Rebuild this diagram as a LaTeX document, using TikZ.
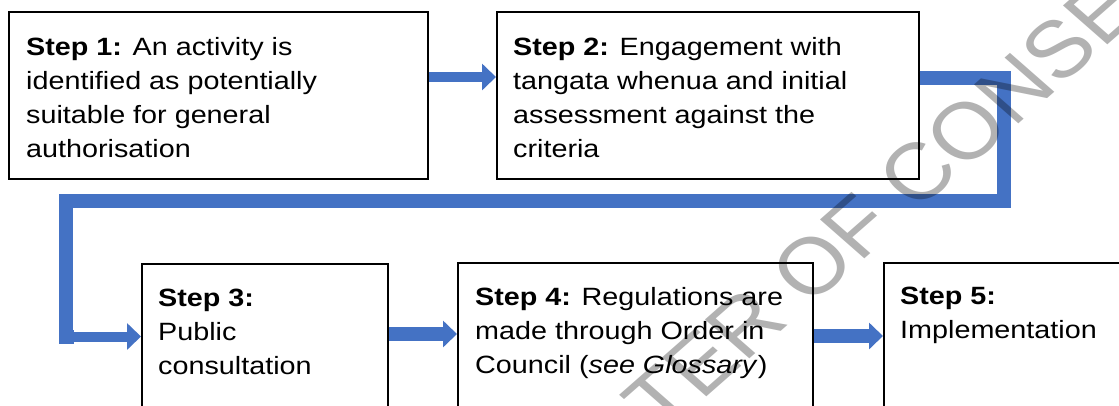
\documentclass[tikz,border=0pt]{standalone}
\usepackage{fontspec}
\setmainfont{Liberation Sans}[FakeStretch=1.15]
\newfontfamily\wmfont{Liberation Sans}
\usetikzlibrary{arrows.meta}
\definecolor{ablue}{HTML}{4472C4}
\begin{document}
\begin{tikzpicture}[x=1pt,y=-1pt,
  stepbox/.style={draw=black, line width=1.5pt, inner sep=0pt, anchor=north west, minimum height=#1},
  steptext/.style={inner sep=0pt, anchor=base west},
  blockarrow/.style={draw=ablue, line width=#1, -{Triangle[length=14pt,width=26pt]}},
  elbow/.style={draw=ablue, line width=14pt, line join=miter},
  wmark/.style={inner sep=0pt, anchor=base west, rotate=45, transform shape, text=black, text opacity=0.3, font=\wmfont\fontsize{80}{80}\selectfont}
]
\newcommand{\steptxt}[1]{\parbox[t]{420pt}{\fontsize{25}{34.3}\selectfont\raggedright #1}}
\clip (0,0) rectangle (1119,405);
\useasboundingbox (0,0) rectangle (1119,405);

% boxes
\node[stepbox=167pt, minimum width=419pt] (b1) at (8,11) {};
\node[stepbox=167pt, minimum width=422pt] (b2) at (496,11) {};
\node[stepbox=200pt, minimum width=246pt] (b3) at (141,263) {};
\node[stepbox=200pt, minimum width=355pt] (b4) at (457,262) {};
\node[stepbox=200pt, minimum width=260pt] (b5) at (883,262) {};

% texts
\node[steptext] (t1) at (26,55) {\steptxt{\textbf{Step 1:} An activity is\\identified as potentially\\suitable for general\\authorisation}};
\node[steptext] (t2) at (513,55) {\steptxt{\textbf{Step 2:} Engagement with\\tangata whenua and initial\\assessment against the\\criteria}};
\node[steptext] (t3) at (158,306) {\steptxt{\textbf{Step 3:}\\Public\\consultation}};
\node[steptext] (t4) at (475,305) {\steptxt{\textbf{Step 4:} Regulations are\\made through Order in\\Council (\textit{see Glossary})}};
\node[steptext] (t5) at (900,304) {\steptxt{\textbf{Step 5:}\\Implementation}};

% connectors
\coordinate (a12) at (0,77);
\draw[blockarrow=10pt] (b1.east |- a12) -- (b2.west |- a12);

\coordinate (c1) at (1003.5,78);
\coordinate (c2) at (1003.5,201);
\coordinate (c3) at (65.5,201);
\coordinate (c4) at (65.5,336.5);
\draw[elbow] (b2.east |- c1) -- (c1) -- (c2) -- (c3) -- (c4) -- ++(8,0);
\draw[blockarrow=10pt] (c4) -- (b3.west |- c4);

\coordinate (a34) at (0,334);
\draw[blockarrow=14pt] (b3.east |- a34) -- (b4.west |- a34);
\coordinate (a45) at (0,336);
\draw[blockarrow=14pt] (b4.east |- a45) -- (b5.west |- a45);

% watermark
\begin{scope}[xscale=1.14]
\node[wmark] (wm) at (580.7,436.1) {TER OF CONSE};
\end{scope}
\end{tikzpicture}
\end{document}
